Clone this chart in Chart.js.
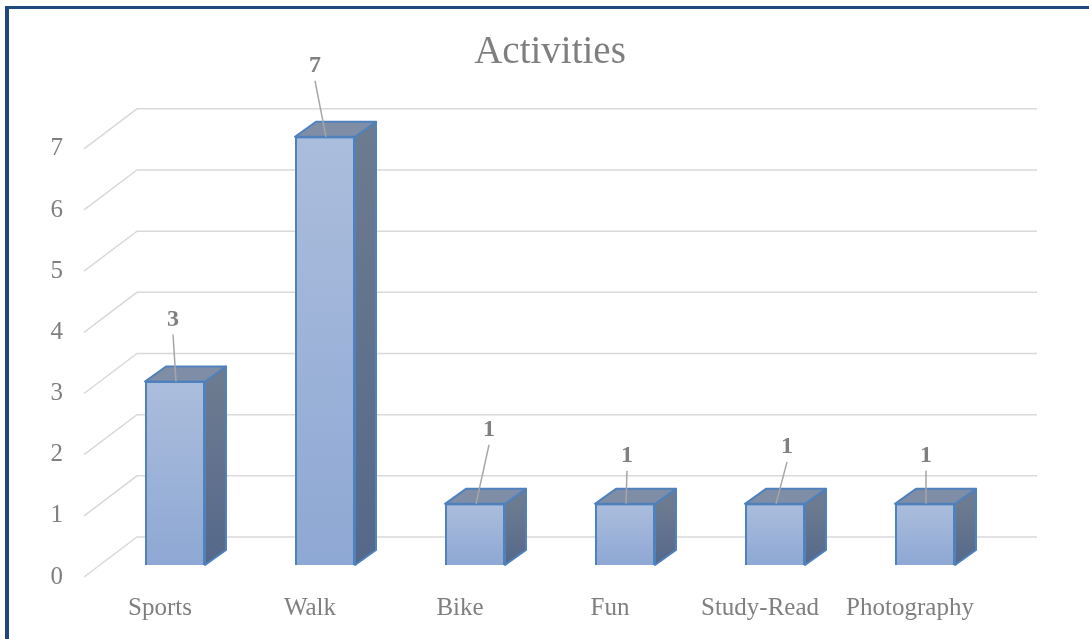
<!DOCTYPE html>
<html>
<head>
<meta charset="utf-8">
<script src="https://cdn.jsdelivr.net/npm/chart.js@4/dist/chart.umd.min.js"></script>
<style>
html, body { margin: 0; padding: 0; background: #fff; }
#wrap { position: relative; width: 1089px; height: 639px; overflow: hidden; }
#frame { position: absolute; left: 5px; top: 6px; width: 1200px; height: 800px;
         border-left: 4px solid #1f497d; border-top: 3px solid #1f497d; pointer-events: none; }
</style>
</head>
<body>
<div id="wrap">
  <canvas id="grafico"></canvas>
  <div id="frame"></div>
</div>
<script>
// data
const atividades = ['Sports', 'Walk', 'Bike', 'Fun', 'Study-Read', 'Photography'];
const quantidade = [3, 7, 1, 1, 1, 1];
const eixoMax = 7;

const fonte = '"Liberation Serif", "DejaVu Serif", serif';
const cinza = '#7f7f7f';

// 3d look (pixels)
const prof = { dx: 21, dy: -15 };     // depth of each bar
const parede = { dx: 37, dy: -28 };   // back wall from bar plane
const frente = { dx: -16, dy: 12 };   // front edge of the floor
// where Excel dragged the value labels, relative to the bar top
const rotuloDesloc = [[-2, -63], [-10, -72], [14, -75], [2, -49], [12, -58], [1, -49]];

const efeito3d = {
    id: 'efeito3d',
    beforeDatasetsDraw(chart) {
        const ctx = chart.ctx;
        const y = chart.scales.y;
        const area = chart.chartArea;
        ctx.save();

        // gridlines on the back wall + diagonal on the side wall
        ctx.strokeStyle = '#d9d9d9';
        ctx.lineWidth = 1.5;
        y.ticks.forEach(function (t) {
            const py = y.getPixelForValue(t.value);
            ctx.beginPath();
            ctx.moveTo(area.left + frente.dx, py + frente.dy);
            ctx.lineTo(area.left + parede.dx, py + parede.dy);
            ctx.lineTo(area.right + parede.dx, py + parede.dy);
            ctx.stroke();
        });

        // side and top faces of the bars
        ctx.strokeStyle = '#4f81bd';
        ctx.lineWidth = 2;
        ctx.lineJoin = 'round';
        chart.getDatasetMeta(0).data.forEach(function (bar) {
            const l = bar.x - bar.width / 2;
            const r = bar.x + bar.width / 2;
            const t = bar.y;
            const b = bar.base;

            let g = ctx.createLinearGradient(0, t, 0, b);
            g.addColorStop(0, '#6d7b90');
            g.addColorStop(1, '#55688a');
            ctx.fillStyle = g;
            ctx.beginPath();
            ctx.moveTo(r, t);
            ctx.lineTo(r + prof.dx, t + prof.dy);
            ctx.lineTo(r + prof.dx, b + prof.dy);
            ctx.lineTo(r, b);
            ctx.closePath();
            ctx.fill();
            ctx.stroke();

            ctx.fillStyle = '#7f8ea6';
            ctx.beginPath();
            ctx.moveTo(l, t);
            ctx.lineTo(l + prof.dx, t + prof.dy);
            ctx.lineTo(r + prof.dx, t + prof.dy);
            ctx.lineTo(r, t);
            ctx.closePath();
            ctx.fill();
            ctx.stroke();
        });
        ctx.restore();
    },
    afterDatasetsDraw(chart) {
        const ctx = chart.ctx;
        const valores = chart.data.datasets[0].data;
        ctx.save();
        ctx.font = 'bold 24px ' + fonte;
        ctx.textAlign = 'center';
        ctx.textBaseline = 'middle';
        chart.getDatasetMeta(0).data.forEach(function (bar, i) {
            const lx = bar.x + rotuloDesloc[i][0];
            const ly = bar.y + rotuloDesloc[i][1];
            ctx.strokeStyle = '#a6a6a6';
            ctx.lineWidth = 1.5;
            ctx.beginPath();
            ctx.moveTo(lx, ly + 16);
            ctx.lineTo(bar.x + 1, bar.y);
            ctx.stroke();
            ctx.fillStyle = cinza;
            ctx.fillText(String(valores[i]), lx, ly + 1);
        });
        ctx.restore();
    }
};

function frenteCor(context) {
    const chart = context.chart;
    if (!chart.chartArea) return '#9db3d9';
    const y = chart.scales.y;
    const topo = y.getPixelForValue(context.raw);
    const base = y.getPixelForValue(0);
    const g = chart.ctx.createLinearGradient(0, topo, 0, base);
    g.addColorStop(0, '#abbddc');
    g.addColorStop(1, '#8ea8d4');
    return g;
}

let grafico = new Chart(document.getElementById('grafico').getContext('2d'), {
    type: 'bar',
    data: {
        labels: atividades,
        datasets: [{
            label: 'Activities',
            data: quantidade,
            backgroundColor: frenteCor,
            borderColor: '#4f81bd',
            borderWidth: 2,
            categoryPercentage: 0.8,
            barPercentage: 0.5,
            clip: false
        }]
    },
    options: {
        responsive: true,
        maintainAspectRatio: false,
        animation: false,
        layout: { padding: { right: 89 } },
        plugins: {
            legend: { display: false },
            tooltip: { enabled: false },
            title: {
                display: true,
                text: 'Activities',
                color: cinza,
                fullSize: false,
                font: { family: fonte, size: 39, weight: 'normal' },
                padding: { top: 29, bottom: 61 }
            }
        },
        scales: {
            x: {
                grid: { display: false, drawTicks: false },
                border: { display: false },
                ticks: { color: cinza, font: { family: fonte, size: 25 }, padding: 28, labelOffset: -15 },
                afterFit: function (s) { s.height = 74; }
            },
            y: {
                min: 0,
                max: eixoMax,
                grid: { display: false, drawTicks: false },
                border: { display: false },
                ticks: { stepSize: 1, color: cinza, font: { family: fonte, size: 25 }, padding: 37, labelOffset: 12 },
                afterFit: function (s) { s.width = 100; }
            }
        }
    },
    plugins: [efeito3d]
});
</script>
</body>
</html>
